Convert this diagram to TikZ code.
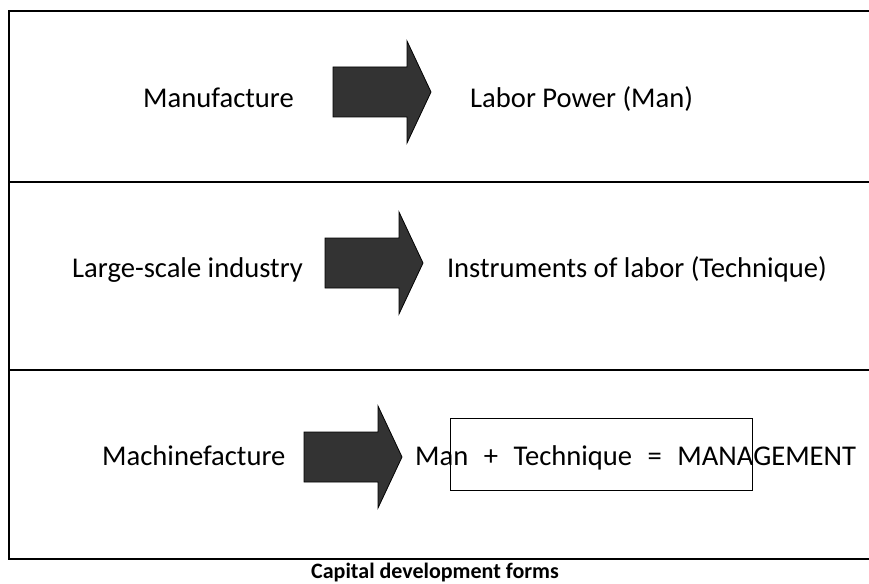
\documentclass[tikz,border=0pt]{standalone}
\usepackage{fontspec}
\setmainfont{Carlito}
\usetikzlibrary{calc}
\def\blockarrow(#1,#2){\draw[blockarrow] (#1,#2) ++(0,-25) -- ++(74,0) -- ++(0,-26) -- ++(24,51) -- ++(-24,51) -- ++(0,-26) -- ++(-74,0) -- cycle;}
\def\gap{\hspace{15.5pt}}
\tikzset{
  frameline/.style={line width=2pt, black},
  blockarrow/.style={fill=black!80, draw=black, line width=0.8pt, line join=miter},
  formtext/.style={anchor=base west, inner sep=0pt, font=\fontsize{28.6}{34}\selectfont},
  resultbox/.style={draw=black, line width=1pt},
  captiontext/.style={anchor=base, inner sep=0pt, font=\fontsize{22}{26}\selectfont\bfseries}
}
\begin{document}
\begin{tikzpicture}[x=1pt, y=-1pt]
			%%%%% START %%%%%
			\useasboundingbox (0,0) rectangle (869,583);
			
			% frame and rows
			\draw[frameline] (875,11) -- (9,11) -- (9,559) -- (875,559);
			\draw[frameline] (9,182) -- (875,182);
			\draw[frameline] (9,370) -- (875,370);
			
			% row 1
			\node[formtext] (manufacture) at (143,107) {Manufacture};
			\blockarrow(333,92)
			\node[formtext] (laborpower) at (470,107) {Labor Power (Man)};
			
			% row 2
			\node[formtext] (largescale) at (72,277) {Large-scale industry};
			\blockarrow(325,263)
			\node[formtext, anchor=base east] (instruments) at (827,277) {Instruments of labor (Technique)};
			
			% row 3
			\node[formtext] (machinefacture) at (102,465) {Machinefacture};
			\blockarrow(304,457)
			\node[formtext] (management) at (415,465) {Man\gap+\gap Technique\gap=\gap MANAGEMENT};
			\draw[resultbox] (450,418) rectangle (752,490);
			
			% caption
			\node[captiontext] (caption) at (435,578) {Capital development forms};
			%%%%% END %%%%%
\end{tikzpicture}
\end{document}
